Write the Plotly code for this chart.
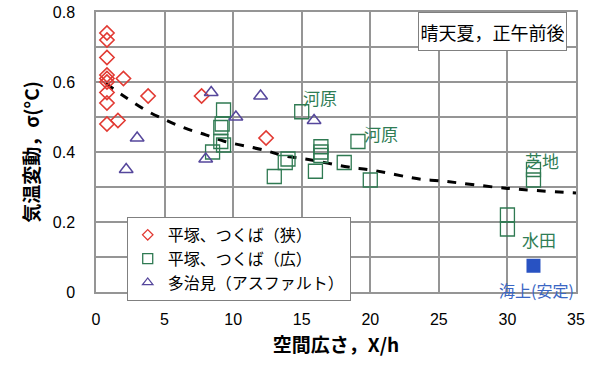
import plotly.graph_objects as go

# ---- data ----
narrow_x = [0.8, 0.8, 0.8, 0.8, 0.8, 0.8, 0.8, 0.8, 0.8, 1.6, 2.0, 3.8, 7.7, 12.4]
narrow_y = [0.74, 0.72, 0.67, 0.62, 0.61, 0.60, 0.57, 0.54, 0.48, 0.49, 0.61, 0.56, 0.56, 0.44]

wide_x = [8.5, 9.1, 9.3, 9.1, 9.2, 9.3, 13.0, 13.8, 14.0, 15.0, 16.0, 16.4, 16.4, 16.4,
          18.1, 19.1, 20.0, 30.0, 30.0, 31.9, 31.9]
wide_y = [0.40, 0.43, 0.42, 0.47, 0.48, 0.52, 0.33, 0.37, 0.38, 0.515, 0.345, 0.415, 0.40, 0.39,
          0.37, 0.43, 0.32, 0.22, 0.18, 0.35, 0.32]

asphalt_x = [2.2, 3.0, 8.0, 8.4, 10.2, 12.0, 15.9]
asphalt_y = [0.35, 0.44, 0.38, 0.57, 0.50, 0.56, 0.49]

sea_x = [31.9]
sea_y = [0.075]

fit_x = [0.7, 2.1, 3.6, 5.1, 6.5, 8.0, 9.4, 10.9, 12.4, 13.5, 15.7, 18.4, 20.0, 23.7, 25.0, 30.0, 35.0]
fit_y = [0.596, 0.558, 0.52, 0.491, 0.468, 0.449, 0.43, 0.417, 0.404, 0.391, 0.377, 0.357, 0.349,
         0.322, 0.318, 0.296, 0.283]

x_ticks = [0, 5, 10, 15, 20, 25, 30, 35]
y_tickvals = [0, 0.1, 0.2, 0.3, 0.4, 0.5, 0.6, 0.7, 0.8]
y_ticktext = ["0", "", "0.2", "", "0.4", "", "0.6", "", "0.8"]

names = ["平塚、つくば（狭）", "平塚、つくば（広）", "多治見（アスファルト）"]

CJK = "Noto Sans CJK JP"
NUM = "Liberation Sans"
RED, GREEN, PURPLE, BLUE = "#e23a33", "#2f7a52", "#56479c", "#2852c2"
GRID = "#959595"

fig = go.Figure()

fig.add_trace(go.Scatter(x=fit_x, y=fit_y, mode="lines",
                         line=dict(color="black", width=3, dash="dash", shape="spline"),
                         showlegend=False, hoverinfo="skip"))

fig.add_trace(go.Scatter(x=narrow_x, y=narrow_y, mode="markers", showlegend=False,
                         marker=dict(symbol="diamond-open", size=11, color=RED, line=dict(width=1.6))))
fig.add_trace(go.Scatter(x=wide_x, y=wide_y, mode="markers", showlegend=False,
                         marker=dict(symbol="square-open", size=14, color=GREEN, line=dict(width=1.3))))
fig.add_trace(go.Scatter(x=asphalt_x, y=asphalt_y, mode="markers", showlegend=False,
                         marker=dict(symbol="triangle-up-open", size=12, color=PURPLE, line=dict(width=1.5))))
fig.add_trace(go.Scatter(x=sea_x, y=sea_y, mode="markers", showlegend=False,
                         marker=dict(symbol="square", size=14, color=BLUE)))

# legend-only entries with smaller symbols
for nm, sym, col, sz in [(names[0], "diamond-open", RED, 8), (names[1], "square-open", GREEN, 10),
                         (names[2], "triangle-up-open", PURPLE, 9)]:
    fig.add_trace(go.Scatter(x=[None], y=[None], mode="markers", name=nm,
                             marker=dict(symbol=sym, size=sz, color=col, line=dict(width=1.3))))

lab_green = "#2f7d55"
ann = [
    dict(x=16.3, y=0.557, text="河原", font=dict(color=lab_green, size=17, family=CJK)),
    dict(x=20.8, y=0.452, text="河原", font=dict(color=lab_green, size=17, family=CJK)),
    dict(x=32.5, y=0.376, text="芝地", font=dict(color=lab_green, size=17, family=CJK)),
    dict(x=32.3, y=0.149, text="水田", font=dict(color=lab_green, size=17, family=CJK)),
    dict(x=32.1, y=0.006, text="海上(安定)", font=dict(color="#3a66c4", size=16, family=CJK)),
]
for a in ann:
    fig.add_annotation(xref="x", yref="y", showarrow=False, xanchor="center", yanchor="middle", **a)

fig.add_annotation(xref="paper", yref="paper", x=0.826, y=0.93, xanchor="center", yanchor="middle",
                   text="晴天夏，正午前後", width=143, height=33,
                   showarrow=False, font=dict(size=18, color="black", family=CJK),
                   bgcolor="white", bordercolor="#808080", borderwidth=1, borderpad=2)

fig.update_layout(
    width=600, height=379,
    margin=dict(l=96, r=24, t=12, b=87, autoexpand=False),
    paper_bgcolor="white", plot_bgcolor="white",
    font=dict(family=CJK, color="black"),
    legend=dict(x=0.064, y=0.268, xanchor="left", yanchor="top", bgcolor="white",
                bordercolor="#808080", borderwidth=1, font=dict(size=16, family=CJK),
                tracegroupgap=0, itemwidth=30),
    showlegend=True,
)
fig.update_xaxes(range=[0, 35], tickvals=x_ticks, showgrid=True, gridcolor=GRID, gridwidth=1.5,
                 showline=True, linecolor=GRID, linewidth=1.5, mirror=True, zeroline=False,
                 automargin=False, ticks="outside", ticklen=12, tickcolor="rgba(0,0,0,0)",
                 tickfont=dict(size=16, family=NUM), ticklabeloverflow="allow",
                 title=dict(text="<b>空間広さ，X/h</b>", font=dict(size=19, family=CJK), standoff=12))
fig.update_yaxes(range=[0, 0.8], tickvals=y_tickvals, ticktext=y_ticktext, showgrid=True,
                 gridcolor=GRID, gridwidth=1.5, showline=True, linecolor=GRID, linewidth=1.5,
                 mirror=True, zeroline=False, automargin=False,
                 ticks="outside", ticklen=16, tickcolor="rgba(0,0,0,0)",
                 tickfont=dict(size=16, family=NUM), ticklabeloverflow="allow",
                 title=dict(text="<b>気温変動，σ(°C)</b>", font=dict(size=19, family=CJK), standoff=8))

fig.write_html("out.html", config={"displayModeBar": False},
               post_script="document.body.style.margin='0px';")
